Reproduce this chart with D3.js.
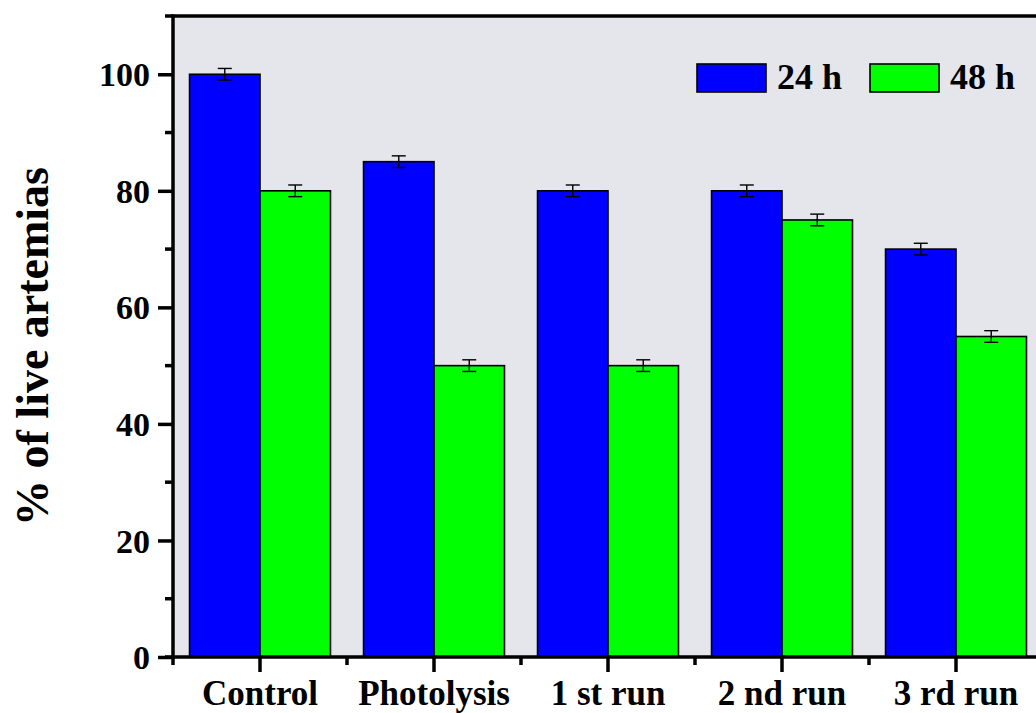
<!DOCTYPE html>
<html>
<head>
<meta charset="utf-8">
<script src="https://cdn.jsdelivr.net/npm/d3@7"></script>
<style>
  html, body { margin: 0; padding: 0; background: #ffffff; }
  svg { display: block; }
  text { font-family: "Liberation Serif", "Times New Roman", serif; font-weight: bold; fill: #000; }
</style>
</head>
<body>
<svg id="chart" width="1036" height="713"></svg>
<script>
// Survival of artemias after exposure, per treatment
const categories = ["Control", "Photolysis", "1 st run", "2 nd run", "3 rd run"];
const seriesNames = ["24 h", "48 h"];
const values24h = [100, 85, 80, 80, 70];
const values48h = [80, 50, 50, 75, 55];
const errors24h = [1, 1, 1, 1, 1];
const errors48h = [1, 1, 1, 1, 1];
const yTicks = [0, 20, 40, 60, 80, 100];
const yMinorTicks = [10, 30, 50, 70, 90, 110];

const colors = { "24 h": "#0000ff", "48 h": "#00ff00" };

const svg = d3.select("#chart");
const W = 1036, H = 713;
const plotLeft = 173, plotBottom = 657, plotTop = 16, plotRight = 1043;

const x = d3.scaleBand().domain(categories).range([plotLeft, plotRight]).padding(0);
const groupW = x.bandwidth() * 0.81;
const xs = d3.scaleBand().domain(seriesNames).range([0, groupW]).padding(0);
const y = d3.scaleLinear().domain([0, 110]).range([plotBottom, plotTop]);

// plot background
svg.append("rect")
  .attr("x", plotLeft).attr("y", plotTop)
  .attr("width", plotRight - plotLeft).attr("height", plotBottom - plotTop)
  .attr("fill", "#e5e5ec");

const rows = categories.map((c, i) => ({
  cat: c,
  items: [
    { s: "24 h", v: values24h[i], e: errors24h[i] },
    { s: "48 h", v: values48h[i], e: errors48h[i] }
  ]
}));

const groups = svg.append("g").selectAll("g").data(rows).join("g")
  .attr("transform", d => `translate(${x(d.cat) + (x.bandwidth() - groupW) / 2},0)`);

groups.selectAll("rect").data(d => d.items).join("rect")
  .attr("x", d => xs(d.s))
  .attr("y", d => y(d.v))
  .attr("width", xs.bandwidth())
  .attr("height", d => y(0) - y(d.v))
  .attr("fill", d => colors[d.s])
  .attr("stroke", "#000")
  .attr("stroke-width", 1.6);

// error bars
const eb = groups.selectAll("g.err").data(d => d.items).join("g").attr("class", "err")
  .attr("transform", d => `translate(${xs(d.s) + xs.bandwidth() / 2},0)`)
  .attr("stroke", "#000").attr("stroke-width", 1.4);
eb.append("line").attr("x1", 0).attr("x2", 0)
  .attr("y1", d => y(d.v + d.e)).attr("y2", d => y(d.v - d.e));
eb.append("line").attr("x1", -7).attr("x2", 7)
  .attr("y1", d => y(d.v + d.e)).attr("y2", d => y(d.v + d.e));
eb.append("line").attr("x1", -7).attr("x2", 7)
  .attr("y1", d => y(d.v - d.e)).attr("y2", d => y(d.v - d.e));

// y axis
const yAxis = svg.append("g").attr("transform", `translate(${plotLeft},0)`);
yAxis.call(d3.axisLeft(y).tickValues(yTicks).tickSize(15).tickPadding(8).tickFormat(d3.format("d")));
yAxis.select(".domain").remove();
yAxis.selectAll(".tick line").attr("stroke", "#000").attr("stroke-width", 3.5);
yAxis.selectAll(".tick text").style("font-size", "34px").attr("dy", "0.34em");
yAxis.selectAll("line.minor").data(yMinorTicks).join("line").attr("class", "minor")
  .attr("x1", -8).attr("x2", 0).attr("y1", d => y(d)).attr("y2", d => y(d))
  .attr("stroke", "#000").attr("stroke-width", 3.5);
yAxis.append("line").attr("x1", 0).attr("x2", 0).attr("y1", plotTop - 1.5).attr("y2", plotBottom + 8)
  .attr("stroke", "#000").attr("stroke-width", 3.5);

// x axis
const xAxis = svg.append("g").attr("transform", `translate(0,${plotBottom})`);
xAxis.call(d3.axisBottom(x).tickSize(15).tickPadding(10));
xAxis.select(".domain").remove();
xAxis.selectAll(".tick line").attr("stroke", "#000").attr("stroke-width", 3.5);
xAxis.selectAll(".tick text").style("font-size", "35px").attr("dy", "0.66em");
const boundaries = categories.map(c => x(c)).slice(1);
xAxis.selectAll("line.minor").data(boundaries).join("line").attr("class", "minor")
  .attr("x1", d => d).attr("x2", d => d).attr("y1", 0).attr("y2", 8)
  .attr("stroke", "#000").attr("stroke-width", 3.5);
xAxis.append("line").attr("x1", plotLeft - 8).attr("x2", W).attr("y1", 0).attr("y2", 0)
  .attr("stroke", "#000").attr("stroke-width", 3.5);

// top frame
svg.append("line").attr("x1", plotLeft - 1.5).attr("x2", W).attr("y1", plotTop).attr("y2", plotTop)
  .attr("stroke", "#000").attr("stroke-width", 3.5);

// y label
svg.append("text")
  .attr("transform", `translate(48,${(plotTop + plotBottom) / 2 + 10}) rotate(-90)`)
  .attr("text-anchor", "middle")
  .style("font-size", "46px")
  .text("% of live artemias");

// legend
const legend = svg.append("g");
const legendItems = [
  { s: "24 h", x: 697 },
  { s: "48 h", x: 870 }
];
legend.selectAll("rect").data(legendItems).join("rect")
  .attr("x", d => d.x).attr("y", 64).attr("width", 69).attr("height", 28)
  .attr("fill", d => colors[d.s]).attr("stroke", "#000").attr("stroke-width", 1.6);
legend.selectAll("text").data(legendItems).join("text")
  .attr("x", d => d.x + 80).attr("y", 89)
  .style("font-size", "36px")
  .text(d => d.s);
</script>
</body>
</html>
